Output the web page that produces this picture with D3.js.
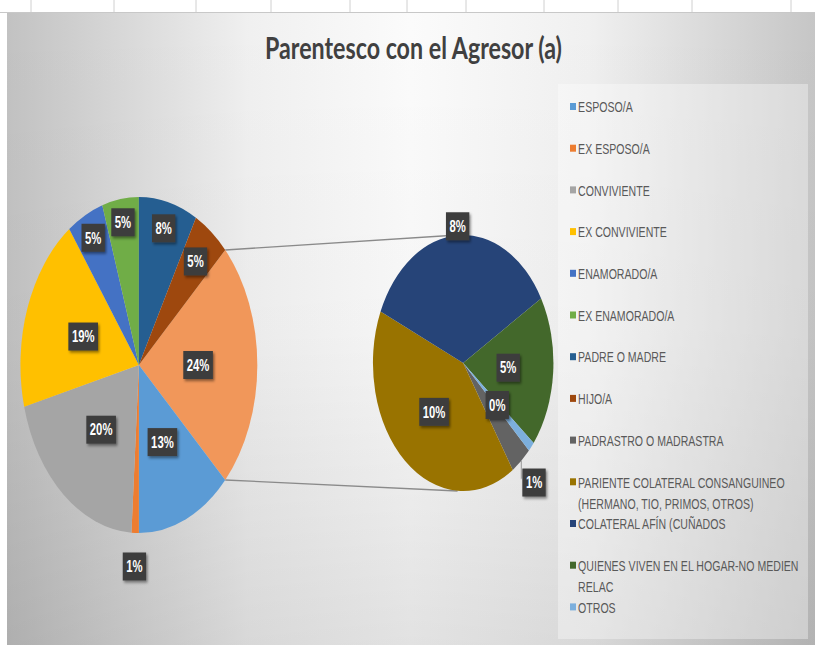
<!DOCTYPE html>
<html>
<head>
<meta charset="utf-8">
<script src="https://cdn.jsdelivr.net/npm/d3@7"></script>
<style>
  body { margin: 0; background: #fff; }
</style>
</head>
<body>
<div id="chart"></div>
<script>

// first pie: categories and percentages
var mainCats = ["ESPOSO/A", "EX ESPOSO/A", "CONVIVIENTE", "EX CONVIVIENTE",
                "ENAMORADO/A", "EX ENAMORADO/A", "PADRE O MADRE", "HIJO/A"];
var mainVals = [13, 1, 20, 19, 5, 5, 8, 5];

// second pie (split off from the first)
var subCats = ["PADRASTRO O MADRASTRA",
               "PARIENTE COLATERAL CONSANGUINEO (HERMANO, TIO, PRIMOS, OTROS)",
               "COLATERAL AFÍN (CUÑADOS",
               "QUIENES VIVEN EN EL HOGAR-NO MEDIEN RELAC",
               "OTROS"];
var subVals = [0.9, 9.8, 8.4, 4.6, 0.3];

var title = "Parentesco con el Agresor (a)";

var colors = ["#5b9bd5", "#ed7d31", "#a5a5a5", "#ffc000", "#4472c4", "#70ad47",
              "#255e91", "#9e480e", "#636363", "#997300", "#264478", "#43682b", "#7cafdd"];
var otherColor = "#f1975a";

// where each data label sits, as a share of the radius (default 0.5)
var labelAt = {"EX ESPOSO/A": 1.2, "ENAMORADO/A": 0.85, "EX ENAMORADO/A": 0.86,
               "PADRE O MADRE": 0.84, "HIJO/A": 0.78,
               "PADRASTRO O MADRASTRA": 1.22, "COLATERAL AFÍN (CUÑADOS": 1.07};

// spreadsheet cell borders above the chart
var gridX = [31, 114, 196, 271, 350, 407, 466, 544, 618, 692, 791];

var W = 815, H = 655;
var squeeze = 0.705;   // the whole picture is narrowed horizontally

var svg = d3.select("#chart").append("svg")
    .attr("width", W)
    .attr("height", H);

var defs = svg.append("defs");

var hg = defs.append("linearGradient").attr("id", "bgH");
[[0, "#c2c2c2"], [0.3, "#f0f0f0"], [0.5, "#fbfbfb"], [0.72, "#f0f0f0"], [1, "#c6c6c6"]].forEach(function(s) {
  hg.append("stop").attr("offset", s[0]).attr("stop-color", s[1]);
});
var vg = defs.append("linearGradient").attr("id", "bgV")
    .attr("x1", 0).attr("y1", 0).attr("x2", 0).attr("y2", 1);
vg.append("stop").attr("offset", 0).attr("stop-color", "#000").attr("stop-opacity", 0);
vg.append("stop").attr("offset", 0.5).attr("stop-color", "#000").attr("stop-opacity", 0.02);
vg.append("stop").attr("offset", 1).attr("stop-color", "#000").attr("stop-opacity", 0.1);

defs.append("filter").attr("id", "shadow")
    .attr("x", "-30%").attr("y", "-30%").attr("width", "170%").attr("height", "170%")
  .append("feDropShadow")
    .attr("dx", 2).attr("dy", 2).attr("stdDeviation", 1.5)
    .attr("flood-color", "#000").attr("flood-opacity", 0.45);

// sheet grid
svg.selectAll(".grid")
    .data(gridX)
  .enter().append("line")
    .attr("x1", function(d) { return d; })
    .attr("x2", function(d) { return d; })
    .attr("y1", 0).attr("y2", 12)
    .attr("stroke", "#d0d0d0");

// chart area
svg.append("rect")
    .attr("x", 7).attr("y", 12).attr("width", W - 7).attr("height", 633)
    .attr("fill", "url(#bgH)");
svg.append("rect")
    .attr("x", 7).attr("y", 12).attr("width", W - 7).attr("height", 633)
    .attr("fill", "url(#bgV)");
svg.append("line")
    .attr("x1", 0).attr("x2", W).attr("y1", 12.5).attr("y2", 12.5)
    .attr("stroke", "#c8c8c8");

var g = svg.append("g")
    .attr("transform", "scale(" + squeeze + ",1)");

// legend background
g.append("rect")
    .attr("x", 558 / squeeze).attr("y", 84)
    .attr("width", 250 / squeeze).attr("height", 555)
    .attr("fill", "#fff").attr("fill-opacity", 0.35);

// title
g.append("text")
    .attr("x", 413.5 / squeeze)
    .attr("y", 59)
    .attr("text-anchor", "middle")
    .attr("textLength", 297 / squeeze)
    .attr("lengthAdjust", "spacingAndGlyphs")
    .style("font-family", "Lato, 'Open Sans', sans-serif")
    .style("font-size", "30px")
    .style("font-weight", "bold")
    .style("fill", "#404040")
    .text(title);

// pies
var total = d3.sum(mainVals) + d3.sum(subVals);
var otherVal = d3.sum(subVals);

var mainData = [{cat: "Otro", val: otherVal, color: otherColor}].concat(
  mainCats.map(function(c, i) { return {cat: c, val: mainVals[i], color: colors[i]}; }));
var subData = subCats.map(function(c, i) {
  return {cat: c, val: subVals[i], color: colors[mainCats.length + i]};
});

var a0 = Math.PI / 2 - Math.PI * otherVal / total;   // combined slice centred at 3 o'clock

var m = {cx: 197, cy: 365, r: 168};
var s = {cx: 657, cy: 363, r: 128};

var mainArcs = d3.pie().sort(null).value(function(d) { return d.val; })
    .startAngle(a0).endAngle(a0 + 2 * Math.PI)(mainData);
var subArcs = d3.pie().sort(null).value(function(d) { return d.val; })
    .startAngle(Math.PI - a0).endAngle(Math.PI - a0 + 2 * Math.PI)(subData);

function point(c, a, f) {
  return [c.cx + f * c.r * Math.sin(a), c.cy - f * c.r * Math.cos(a)];
}

// connector lines between the combined slice and the second pie
var other = mainArcs[0];
var p1 = point(m, other.startAngle, 1), p2 = point(m, other.endAngle, 1);
g.append("line")
    .attr("x1", p1[0]).attr("y1", p1[1])
    .attr("x2", s.cx - 8).attr("y2", s.cy - s.r)
    .attr("stroke", "#8a8a8a").attr("stroke-width", 1.3);
g.append("line")
    .attr("x1", p2[0]).attr("y1", p2[1])
    .attr("x2", s.cx - 8).attr("y2", s.cy + s.r)
    .attr("stroke", "#8a8a8a").attr("stroke-width", 1.3);

function drawPie(arcs, c, isSub) {
  var arc = d3.arc().innerRadius(0).outerRadius(c.r);
  var pg = g.append("g").attr("transform", "translate(" + c.cx + "," + c.cy + ")");
  pg.selectAll("path")
      .data(arcs)
    .enter().append("path")
      .attr("d", arc)
      .attr("fill", function(d) { return d.data.color; });

  arcs.forEach(function(d) {
    var f = labelAt[d.data.cat] || 0.5;
    var mid = (d.startAngle + d.endAngle) / 2;
    var p = point(c, mid, f);

    if (isSub && f > 1.1) {
      var e = point(c, mid, 1);
      g.append("polyline")
          .attr("points", [e, [e[0], p[1] - 4], [p[0] - 18, p[1] - 4]].join(" "))
          .attr("fill", "none").attr("stroke", "#8a8a8a").attr("stroke-width", 1.2);
    }

    var lg = g.append("g").attr("transform", "translate(" + p[0] + "," + p[1] + ")");
    var box = lg.append("rect").attr("fill", "#3d3d3d").attr("filter", "url(#shadow)");
    var t = lg.append("text")
        .attr("text-anchor", "middle")
        .attr("dy", "0.36em")
        .style("font-family", "'Liberation Sans', Arial, sans-serif")
        .style("font-size", "16px")
        .style("font-weight", "bold")
        .style("fill", "#fff")
        .text(Math.round(d.data.val / total * 100) + "%");
    var w = t.node().getComputedTextLength() + 10;
    box.attr("x", -w / 2).attr("y", -14).attr("width", w).attr("height", 28);
  });
}

drawPie(mainArcs, m, false);
drawPie(subArcs, s, true);

// legend
var legendCats = mainCats.concat(subCats);
var legendColors = colors;
var lx = 570 / squeeze, ly = 107, step = 41.7, maxW = 330;

var items = g.selectAll(".legend")
    .data(legendCats)
  .enter().append("g")
    .attr("class", "legend")
    .attr("transform", function(d, i) { return "translate(" + lx + "," + (ly + i * step) + ")"; });

items.append("rect")
    .attr("x", 0).attr("y", -4)
    .attr("width", 8.5).attr("height", 7)
    .attr("fill", function(d, i) { return legendColors[i]; });

items.each(function(d) {
  var t = d3.select(this).append("text")
      .attr("x", 11.5)
      .attr("dy", "0.35em")
      .style("font-family", "'Liberation Sans', Arial, sans-serif")
      .style("font-size", "15px")
      .style("fill", "#595959");
  // wrap long names onto a second line
  var words = d.split(" "), line = [];
  var ts = t.append("tspan").attr("x", 11.5);
  words.forEach(function(wd) {
    line.push(wd);
    ts.text(line.join(" "));
    if (ts.node().getComputedTextLength() > maxW && line.length > 1) {
      line.pop();
      ts.text(line.join(" "));
      line = [wd];
      ts = t.append("tspan").attr("x", 11.5).attr("dy", 21).text(wd);
    }
  });
});

</script>
</body>
</html>
